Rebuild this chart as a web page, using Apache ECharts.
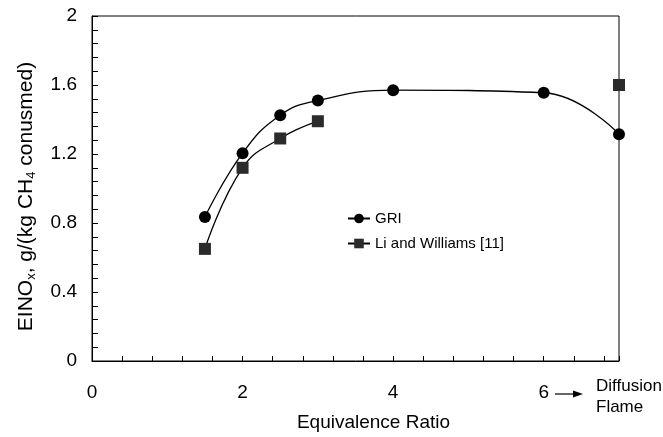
<!DOCTYPE html>
<html>
<head>
<meta charset="utf-8">
<script src="https://cdn.jsdelivr.net/npm/echarts@6/dist/echarts.min.js"></script>
<style>
  html, body { margin: 0; padding: 0; background: #fff; }
  #chart { width: 663px; height: 437px; }
</style>
</head>
<body>
<div id="chart"></div>
<script>
// Equivalence ratio (x) and NOx emission index (y)
var griX = [1.5, 2, 2.5, 3, 4, 6, 7];
var griY = [0.835, 1.205, 1.425, 1.51, 1.57, 1.555, 1.315];
var lwX = [1.5, 2, 2.5, 3];
var lwY = [0.65, 1.12, 1.29, 1.39];
// diffusion-flame result plotted at the right edge
var lwDiffX = [7];
var lwDiffY = [1.6];

var xTickLabels = [0, 2, 4, 6];
var yTickLabels = [0, 0.4, 0.8, 1.2, 1.6, 2];

var FONT = "'Liberation Sans', Arial, Helvetica, sans-serif";

function zip(xs, ys) {
  return xs.map(function (x, i) { return [x, ys[i]]; });
}
function inList(v, list) {
  for (var i = 0; i < list.length; i++) {
    if (Math.abs(v - list[i]) < 1e-6) return true;
  }
  return false;
}
function fmt(v) { return String(parseFloat(v.toFixed(2))); }

var chart = echarts.init(document.getElementById('chart'), null, { renderer: 'canvas' });

chart.setOption({
  animation: false,
  backgroundColor: '#fff',
  textStyle: { fontFamily: FONT, color: '#000' },
  grid: {
    left: 92, right: 44, top: 16, bottom: 75,
    show: true, borderColor: '#000', borderWidth: 1, backgroundColor: 'transparent'
  },
  xAxis: {
    type: 'value', min: 0, max: 7, interval: 0.4,
    name: 'Equivalence Ratio',
    nameLocation: 'middle', nameGap: 52,
    nameTextStyle: { fontFamily: FONT, fontSize: 19, color: '#000', padding: [0, 0, 0, 36] },
    axisLine: { show: true, lineStyle: { color: '#000', width: 1 } },
    axisTick: { show: true, inside: true, length: 5, lineStyle: { color: '#000' } },
    splitLine: { show: false },
    axisLabel: {
      fontFamily: FONT, fontSize: 19, color: '#000', margin: 22,
      formatter: function (v) { return inList(v, xTickLabels) ? fmt(v) : ''; }
    }
  },
  yAxis: {
    type: 'value', min: 0, max: 2, interval: 0.08,
    name: '{n|EINO}{s|x}{n|, g/(kg CH}{s|4}{n| conusmed)}',
    nameLocation: 'middle', nameRotate: 90, nameGap: 54,
    nameTextStyle: {
      fontFamily: FONT, fontSize: 21, color: '#000', padding: [0, 16, 0, 0],
      rich: {
        n: { fontFamily: FONT, fontSize: 21, color: '#000', lineHeight: 24 },
        s: { fontFamily: FONT, fontSize: 13, color: '#000', lineHeight: 13, verticalAlign: 'bottom' }
      }
    },
    axisLine: { show: true, lineStyle: { color: '#000', width: 1 } },
    axisTick: { show: true, inside: true, length: 6, lineStyle: { color: '#000' } },
    splitLine: { show: false },
    axisLabel: {
      fontFamily: FONT, fontSize: 19, color: '#000', margin: 15,
      formatter: function (v) { return inList(v, yTickLabels) ? fmt(v) : ''; }
    }
  },
  legend: {
    orient: 'vertical', left: 342, top: 206,
    itemWidth: 22, itemHeight: 12, itemGap: 10,
    textStyle: { fontFamily: FONT, fontSize: 15, color: '#000' },
    data: ['GRI', 'Li and Williams [11]']
  },
  series: [
    {
      name: 'GRI', type: 'line', smooth: 0.45,
      data: zip(griX, griY),
      symbol: 'circle', symbolSize: 12,
      itemStyle: { color: '#000' },
      lineStyle: { color: '#000', width: 1.3 },
      z: 3
    },
    {
      name: 'Li and Williams [11]', type: 'line', smooth: 0.45,
      data: zip(lwX, lwY),
      symbol: 'rect', symbolSize: 12,
      itemStyle: { color: '#2b2b2b' },
      lineStyle: { color: '#000', width: 1.3 },
      z: 2
    },
    {
      name: 'Li and Williams [11]', type: 'line',
      data: zip(lwDiffX, lwDiffY),
      symbol: 'rect', symbolSize: 12,
      itemStyle: { color: '#2b2b2b' },
      lineStyle: { color: '#000', width: 1.3 },
      z: 2
    }
  ],
  graphic: [
    { type: 'line', shape: { x1: 555, y1: 394, x2: 575, y2: 394 }, style: { stroke: '#000', lineWidth: 1.2 } },
    { type: 'polygon', shape: { points: [[583, 394], [573, 390.5], [573, 397.5]] }, style: { fill: '#000' } },
    {
      type: 'text', left: 596, top: 376,
      style: { text: 'Diffusion\nFlame', fontFamily: FONT, fontSize: 17, lineHeight: 21, fill: '#000' }
    }
  ]
});
</script>
</body>
</html>
